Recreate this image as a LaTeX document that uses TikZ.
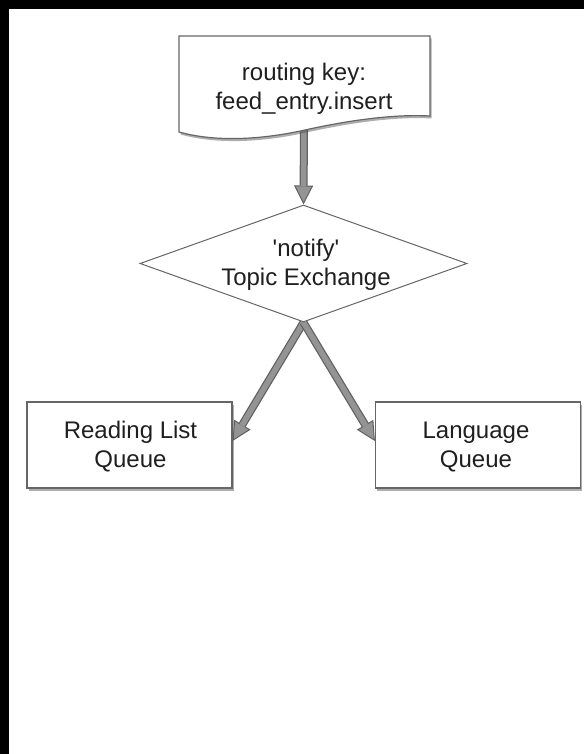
\documentclass[tikz,border=0pt]{standalone}
\usepackage{fontspec}
\setmainfont{Liberation Sans}[Ligatures=TeXOff]
\usetikzlibrary{arrows.meta,shapes.geometric,shadows}
\begin{document}
\begin{tikzpicture}[x=1pt,y=1pt,
  lbl/.style={align=center, font=\fontsize{24}{29}\selectfont, text=black!88, inner sep=0pt},
  shadowed/.style={drop shadow={shadow xshift=1.5pt, shadow yshift=-2.5pt, opacity=0.45, fill=black!70}},
  box/.style={draw=black!60, line width=1.2pt, fill=white, minimum width=205pt, minimum height=86pt, shadowed},
  docshape/.style={draw=black!60, line width=1.2pt, fill=white, shadowed},
  xchg/.style={diamond, draw=black!60, line width=1pt, fill=white, minimum width=327pt, minimum height=117pt, inner sep=0pt},
  fatout/.style={line width=8pt, draw=black!62, -{Triangle[length=19pt,width=19pt,line width=1pt,color=black!62,fill=black!42]}},
  fatin/.style={line width=5.5pt, draw=black!42, shorten >=18pt}
]
\fill[black] (0,0) rectangle (584,-754);
\fill[white] (9,-9) rectangle (584,-754);
\useasboundingbox (0,0) rectangle (584,-754);

% exchange diamond
\node[xchg] (ex) at (303.5,-263.5) {};
\node[lbl] (extext) at (306,-265) {'notify'\\Topic Exchange};

% queues
\node[box] (rl) at (129.5,-445) {};
\node[lbl] (rltext) at (130.5,-447) {Reading List\\Queue};
\node[box] (lq) at (478,-445) {};
\node[lbl] (lqtext) at (476,-447) {Language\\Queue};

% routing key document
\coordinate (docb) at (304,-124);

% connectors
\draw[fatout] (docb) -- (ex.north);
\draw[fatin] (docb) -- (ex.north);
\draw[fatout] (ex.south) -- ([yshift=4pt]rl.east);
\draw[fatin] (ex.south) -- ([yshift=4pt]rl.east);
\draw[fatout] (ex.south) -- ([yshift=4pt]lq.west);
\draw[fatin] (ex.south) -- ([yshift=4pt]lq.west);

\filldraw[docshape] (179,-36) -- (430,-36) -- (430,-116)
  .. controls (395,-114) and (350,-120) .. (305,-130)
  .. controls (260,-140) and (215,-142) .. (179,-132) -- cycle;
\node[lbl] (doc) at (304,-89) {routing key:\\feed\_entry.insert};
\end{tikzpicture}
\end{document}
